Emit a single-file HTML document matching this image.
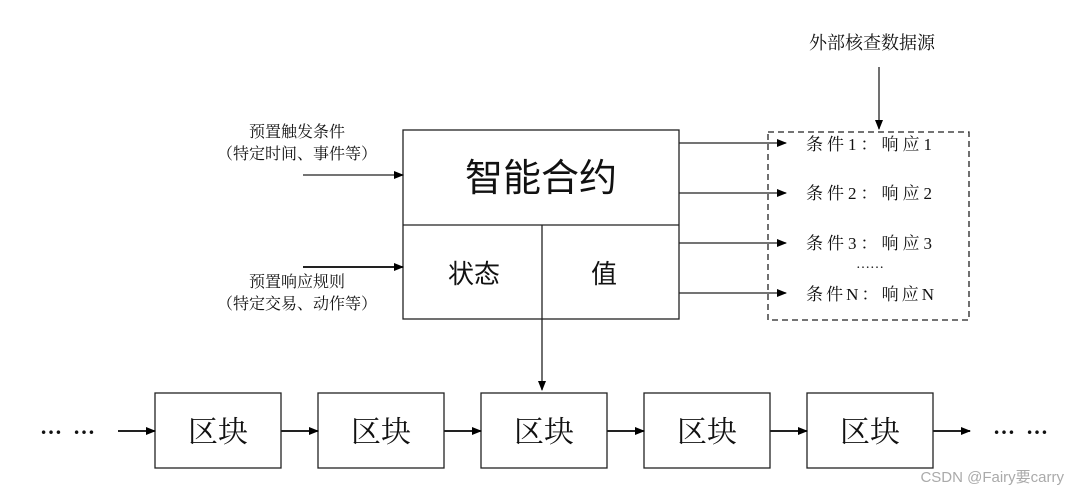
<!DOCTYPE html>
<html><head><meta charset="utf-8"><style>
html,body{margin:0;padding:0;background:#fff;}
svg{display:block;}
text{font-family:"Liberation Serif","Noto Serif CJK SC","Noto Sans CJK SC",serif;fill:#111;}
.s{font-family:"Liberation Sans","Noto Sans CJK SC",sans-serif;}
</style></head><body>
<svg width="1080" height="494" viewBox="0 0 1080 494" xmlns="http://www.w3.org/2000/svg">
<defs><marker id="a" markerWidth="10" markerHeight="8" refX="9" refY="4" orient="auto" markerUnits="userSpaceOnUse"><path d="M0,0 L10,4 L0,8 Z" fill="#000"/></marker></defs>
<g stroke="#222" fill="none" stroke-width="1.3">
<rect x="403" y="130" width="276" height="189"/>
<line x1="403" y1="225" x2="679" y2="225"/>
<line x1="542" y1="225" x2="542" y2="390" marker-end="url(#a)"/>
<line x1="303" y1="175" x2="403" y2="175" marker-end="url(#a)"/>
<line x1="303" y1="267" x2="403" y2="267" stroke-width="2" marker-end="url(#a)"/>
<rect x="768" y="132" width="201" height="188" stroke-dasharray="6,4"/>
<line x1="879" y1="67" x2="879" y2="129" marker-end="url(#a)"/>
<line x1="679" y1="143" x2="786" y2="143" marker-end="url(#a)"/>
<line x1="679" y1="193" x2="786" y2="193" marker-end="url(#a)"/>
<line x1="679" y1="243" x2="786" y2="243" marker-end="url(#a)"/>
<line x1="679" y1="293" x2="786" y2="293" marker-end="url(#a)"/>
<rect x="155" y="393" width="126" height="75"/>
<rect x="318" y="393" width="126" height="75"/>
<rect x="481" y="393" width="126" height="75"/>
<rect x="644" y="393" width="126" height="75"/>
<rect x="807" y="393" width="126" height="75"/>
<line x1="118" y1="431" x2="155" y2="431" stroke-width="2" marker-end="url(#a)"/>
<line x1="281" y1="431" x2="318" y2="431" stroke-width="2" marker-end="url(#a)"/>
<line x1="444" y1="431" x2="481" y2="431" stroke-width="2" marker-end="url(#a)"/>
<line x1="607" y1="431" x2="644" y2="431" stroke-width="2" marker-end="url(#a)"/>
<line x1="770" y1="431" x2="807" y2="431" stroke-width="2" marker-end="url(#a)"/>
<line x1="933" y1="431" x2="970" y2="431" stroke-width="2" marker-end="url(#a)"/>
</g>
<text x="541" y="191" font-size="38" text-anchor="middle" class="s">智能合约</text>
<text x="474" y="283" font-size="26" text-anchor="middle" class="s">状态</text>
<text x="604" y="283" font-size="26" text-anchor="middle" class="s">值</text>
<text x="297" y="137" font-size="16" text-anchor="middle">预置触发条件</text>
<text x="297" y="159" font-size="16" text-anchor="middle">（特定时间、事件等）</text>
<text x="297" y="287" font-size="16" text-anchor="middle">预置响应规则</text>
<text x="297" y="309" font-size="16" text-anchor="middle">（特定交易、动作等）</text>
<text x="872" y="49" font-size="18" text-anchor="middle">外部核查数据源</text>
<text x="806" y="150" font-size="17" textLength="126" lengthAdjust="spacing">条件1：响应1</text>
<text x="806" y="199" font-size="17" textLength="126" lengthAdjust="spacing">条件2：响应2</text>
<text x="806" y="249" font-size="17" textLength="126" lengthAdjust="spacing">条件3：响应3</text>
<text x="856" y="268" font-size="14">……</text>
<text x="806" y="300" font-size="17" textLength="128" lengthAdjust="spacing">条件N：响应N</text>
<g font-size="30" text-anchor="middle" class="s">
<text x="218" y="442">区块</text><text x="381" y="442">区块</text><text x="544" y="442">区块</text><text x="707" y="442">区块</text><text x="870" y="442">区块</text>
</g>
<text x="40" y="434" font-size="22" font-weight="bold" textLength="55" lengthAdjust="spacing">……</text>
<text x="993" y="434" font-size="22" font-weight="bold" textLength="55" lengthAdjust="spacing">……</text>
<text x="1064" y="482" font-size="15" text-anchor="end" class="s" style="fill:#aaa">CSDN @Fairy要carry</text>
</svg>
</body></html>
